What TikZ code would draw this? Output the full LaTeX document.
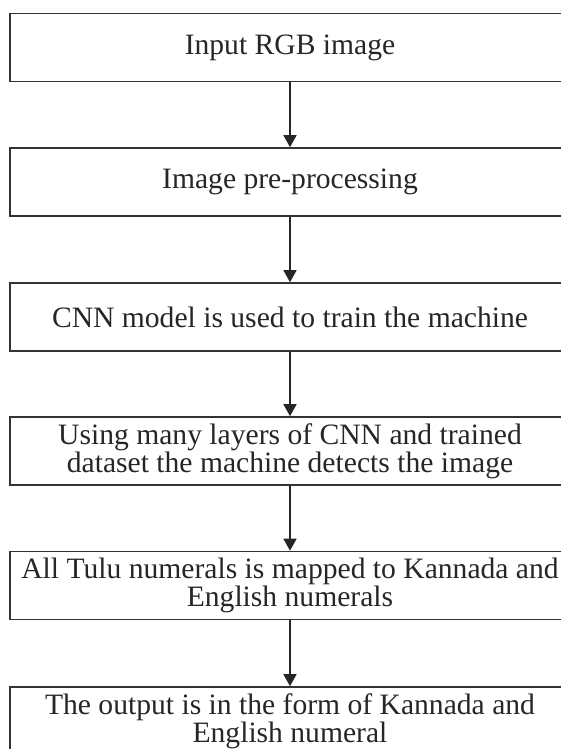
\documentclass[tikz,border=0pt]{standalone}
\usepackage{fontspec}
\setmainfont{Liberation Serif}
\usetikzlibrary{arrows.meta}
\begin{document}
\begin{tikzpicture}[x=1pt,y=-1pt,
            stage/.style = {rectangle,
                draw = black!80,
                line width = 1.6pt,
                minimum width = 560pt,
                minimum height = 68pt,
                inner sep = 0pt,
                align = center,
                font = \fontsize{29.6}{26.5}\selectfont,
                text = black!85,
                },
            flow/.style = {draw = black!85,
                line width = 1.6pt,
                -{Triangle[width=13pt,length=12pt]},
                }]

        % Page
        \useasboundingbox (0,0) rectangle (561,749);

        % Stages
        \node[stage] (input) at (290,47.5) {Input RGB image};
        \node[stage] (prep) at (290,182) {Image pre-processing};
        \node[stage] (cnn) at (290,317) {CNN model is used to train the machine};
        \node[stage] (detect) at (290,451) {Using many layers of CNN and trained\\dataset the machine detects the image};
        \node[stage] (map) at (290,585.5) {All Tulu numerals is mapped to Kannada and\\English numerals};
        \node[stage] (output) at (290,721) {The output is in the form of Kannada and\\English numeral};

        % Arrows
        \draw[flow] (input) -- (prep);
        \draw[flow] (prep) -- (cnn);
        \draw[flow] (cnn) -- (detect);
        \draw[flow] (detect) -- (map);
        \draw[flow] (map) -- (output);

        \end{tikzpicture}
\end{document}
